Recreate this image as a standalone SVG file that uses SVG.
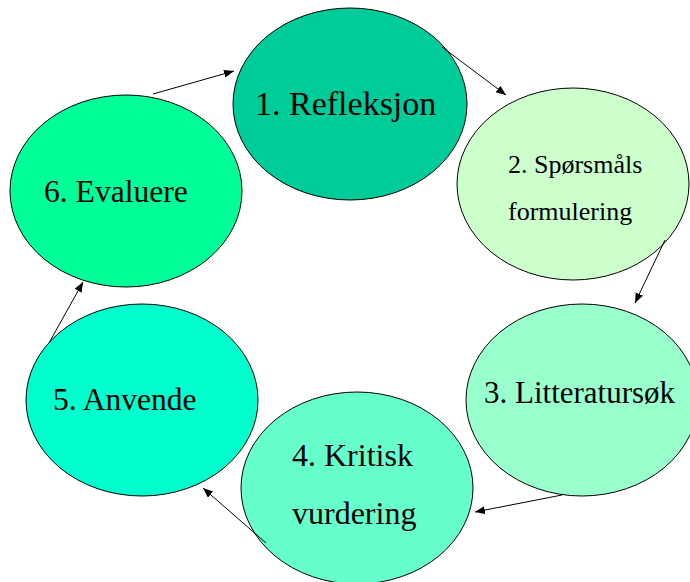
<svg xmlns="http://www.w3.org/2000/svg" width="690" height="582" viewBox="0 0 690 582" font-family="Liberation Serif, Times New Roman, serif">
<style>
.n{stroke:#000;stroke-width:1}
.c{stroke:#000;stroke-width:1;fill:none;marker-end:url(#ah)}
</style>
<defs>
<marker id="ah" markerUnits="userSpaceOnUse" markerWidth="11" markerHeight="9" refX="10" refY="4" orient="auto">
<path d="M0,0 L10,4 L0,8 z" fill="#000"/>
</marker>
</defs>
<rect width="690" height="582" fill="#fff"/>
<g id="node1"><ellipse class="n" cx="350" cy="104" rx="117" ry="96" fill="#00CC99"/><text x="255" y="115" font-size="34">1. Refleksjon</text></g>
<g id="node2"><ellipse class="n" cx="573" cy="184" rx="116" ry="96" fill="#CCFFCC"/><text x="508" y="173" font-size="26">2. Sp&#248;rsm&#229;ls</text><text x="508" y="220" font-size="26">formulering</text></g>
<g id="node3"><ellipse class="n" cx="582" cy="400" rx="116" ry="96" fill="#99FFCC"/><text x="484" y="403" font-size="31">3. Litteraturs&#248;k</text></g>
<g id="node4"><ellipse class="n" cx="357" cy="488" rx="116" ry="96" fill="#66FFCC"/><text x="292" y="466" font-size="32">4. Kritisk</text><text x="292" y="524" font-size="32">vurdering</text></g>
<g id="node5"><ellipse class="n" cx="142" cy="400" rx="116" ry="96" fill="#00FFCC"/><text x="53" y="410" font-size="31.5">5. Anvende</text></g>
<g id="node6"><ellipse class="n" cx="126" cy="191" rx="116" ry="96" fill="#00FF99"/><text x="44" y="202" font-size="31.6">6. Evaluere</text></g>
<g id="connectors">
<line class="c" x1="442" y1="47" x2="506" y2="95"/>
<line class="c" x1="665" y1="240" x2="635" y2="303"/>
<line class="c" x1="562" y1="495" x2="475" y2="512"/>
<line class="c" x1="266" y1="543" x2="203" y2="488"/>
<line class="c" x1="49" y1="343" x2="83" y2="282"/>
<line class="c" x1="153" y1="94" x2="234" y2="71"/>
</g>
</svg>
